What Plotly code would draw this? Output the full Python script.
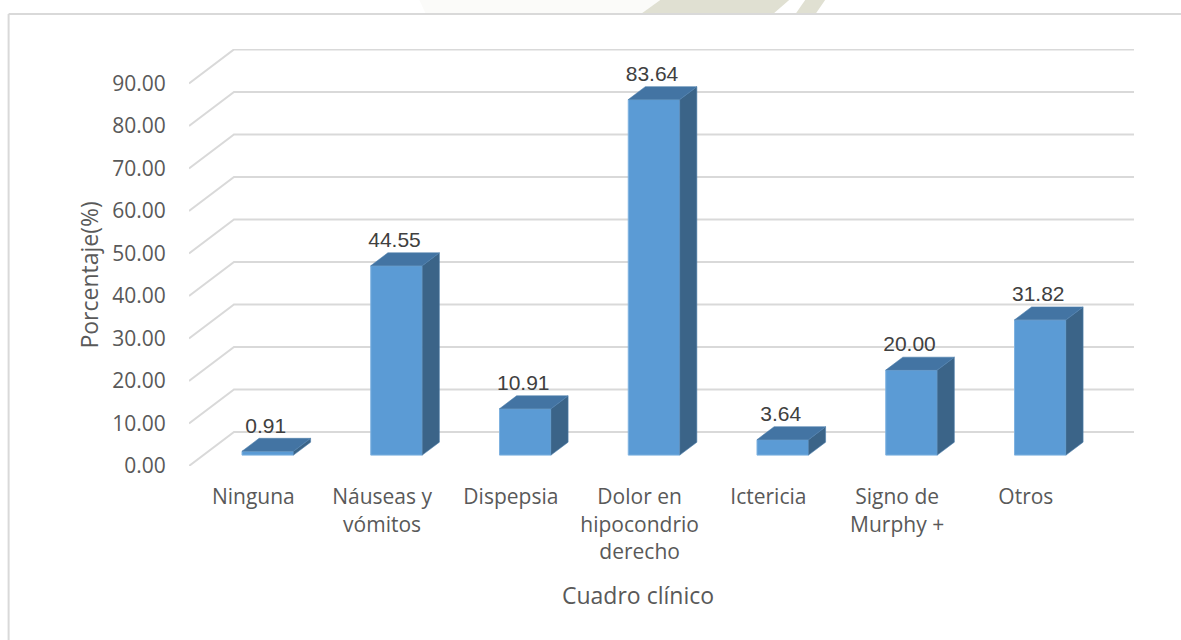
import plotly.graph_objects as go

categories = ["Ninguna", "Náuseas y<br>vómitos", "Dispepsia", "Dolor en<br>hipocondrio<br>derecho",
              "Ictericia", "Signo de<br>Murphy +", "Otros"]
values = [0.91, 44.55, 10.91, 83.64, 3.64, 20.00, 31.82]
y_ticks = [0, 10, 20, 30, 40, 50, 60, 70, 80, 90]
x_pos = list(range(len(categories)))

# projection of the pseudo-3D chart, in data units
WALL_DX, WALL_DY = 45 / 128.8, 8.0
BAR_FRONT, BAR_BACK = 0.32, 0.70
BAR_W = 0.40
X_MIN, X_MAX = -0.5, 6.84
Y_MAX = 98.1

FRONT = "#5B9BD5"
SIDE = "#3B6488"
TOP = "#4374A3"
GRID = "#D9D9D9"

centers = [x + BAR_FRONT * WALL_DX for x in x_pos]
base = BAR_FRONT * WALL_DY
ddx = (BAR_BACK - BAR_FRONT) * WALL_DX
ddy = (BAR_BACK - BAR_FRONT) * WALL_DY

fig = go.Figure()
fig.add_trace(go.Bar(x=centers, y=values, base=base, width=BAR_W,
                     marker=dict(color=FRONT, line=dict(color="#7FB2E0", width=1)),
                     hoverinfo="skip"))

sx, sy, tx, ty = [], [], [], []
for c, v in zip(centers, values):
    r = c + BAR_W / 2
    l = c - BAR_W / 2
    top = base + v
    sx += [r, r + ddx, r + ddx, r, r, None]
    sy += [base, base + ddy, top + ddy, top, base, None]
    tx += [l, r, r + ddx, l + ddx, l, None]
    ty += [top, top, top + ddy, top + ddy, top, None]
fig.add_trace(go.Scatter(x=sx, y=sy, mode="lines", fill="toself", fillcolor=SIDE,
                         line=dict(color="#4F7FAD", width=0.6), hoverinfo="skip"))
fig.add_trace(go.Scatter(x=tx, y=ty, mode="lines", fill="toself", fillcolor=TOP,
                         line=dict(color="#4F7FAD", width=0.6), hoverinfo="skip"))
fig.add_trace(go.Scatter(x=[c - 2 / 128.8 for c in centers],
                         y=[v + base + 24 / 4.25 for v in values],
                         mode="text", text=[f"{v:.2f}" for v in values],
                         textposition="middle center",
                         textfont=dict(family="Liberation Sans", size=21, color="#404040"),
                         hoverinfo="skip"))

shapes = []
for t in y_ticks:
    shapes.append(dict(type="path", xref="x", yref="y", layer="below",
                       path=f"M {X_MIN} {t} L {X_MIN + WALL_DX} {t + WALL_DY} L {X_MAX} {t + WALL_DY}",
                       line=dict(color=GRID, width=2)))


def px(x):
    return (x - 188.5) / 945.5


def py(y):
    return (466 - y) / 417


# chart frame
shapes.append(dict(type="line", xref="paper", yref="paper", layer="below",
                   x0=px(8), x1=px(8), y0=py(640), y1=py(14),
                   line=dict(color=GRID, width=2)))
shapes.append(dict(type="line", xref="paper", yref="paper", layer="below",
                   x0=px(8), x1=px(1181), y0=py(14), y1=py(14),
                   line=dict(color=GRID, width=2)))


def poly(points, color):
    d = "M " + " L ".join(f"{px(a)} {py(b)}" for a, b in points) + " Z"
    return dict(type="path", xref="paper", yref="paper", layer="below", path=d,
                fillcolor=color, line=dict(width=0))


# faint page watermark showing above the frame
shapes.append(poly([(419, 0), (660, 0), (642, 13), (425, 13)], "#FBFBF9"))
shapes.append(poly([(660, 0), (789, 0), (774, 13), (642, 13)], "#E0E0D2"))
shapes.append(poly([(805, 0), (825, 0), (816, 13), (796, 13)], "#E0E0D2"))

annotations = [
    dict(text="Cuadro clínico", xref="paper", yref="paper", x=px(638), y=py(595), showarrow=False,
         xanchor="center", yanchor="middle",
         font=dict(family="Open Sans", size=23, color="#595959")),
    dict(text="Porcentaje(%)", xref="paper", yref="paper", x=px(88), y=py(275), showarrow=False,
         xanchor="center", yanchor="middle", textangle=-90,
         font=dict(family="Open Sans", size=23, color="#595959")),
]

fig.update_layout(
    width=1181, height=640, showlegend=False, hovermode=False,
    margin=dict(l=188.5, r=47, t=49, b=174, pad=0),
    paper_bgcolor="white", plot_bgcolor="rgba(0,0,0,0)",
    shapes=shapes, annotations=annotations,
    xaxis=dict(range=[X_MIN, X_MAX], tickmode="array", tickvals=x_pos, ticktext=categories,
               showgrid=False, zeroline=False, showline=False, ticks="outside", ticklen=12,
               tickcolor="rgba(0,0,0,0)", tickangle=0,
               tickfont=dict(family="Open Sans", size=21, color="#595959")),
    yaxis=dict(range=[0, Y_MAX], tickmode="array", tickvals=y_ticks,
               ticktext=[f"{t:.2f}" for t in y_ticks],
               showgrid=False, zeroline=False, showline=False, ticks="outside", ticklen=18,
               tickcolor="rgba(0,0,0,0)",
               tickfont=dict(family="Open Sans", size=21, color="#595959")),
)

fig.write_html("out.html", config={"displayModeBar": False},
               post_script="document.body.style.margin='0';")
